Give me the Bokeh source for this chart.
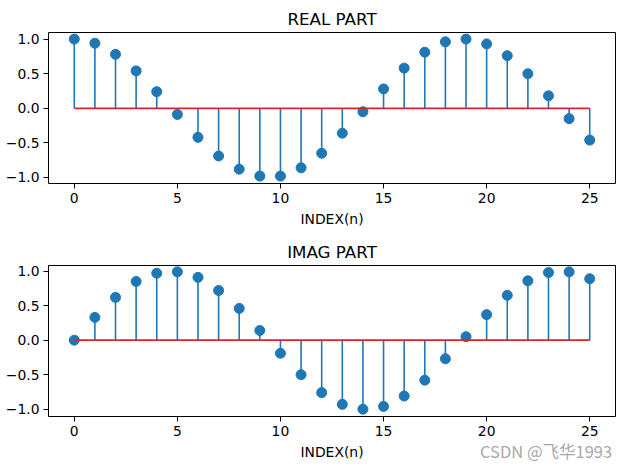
from bokeh.plotting import figure
from bokeh.layouts import column
from bokeh.models import FixedTicker, Range1d, Div
from bokeh.embed import file_html
from bokeh.resources import INLINE

n = list(range(26))
real_part = [1.0, 0.94, 0.78, 0.54, 0.24, -0.09, -0.42, -0.69, -0.88, -0.98,
             -0.98, -0.86, -0.65, -0.36, -0.05, 0.28, 0.58, 0.81, 0.96, 1.0,
             0.93, 0.76, 0.50, 0.18, -0.15, -0.46]
imag_part = [0.0, 0.33, 0.62, 0.85, 0.97, 0.99, 0.91, 0.72, 0.46, 0.14,
             -0.19, -0.50, -0.76, -0.93, -1.0, -0.96, -0.81, -0.58, -0.27, 0.05,
             0.37, 0.65, 0.86, 0.98, 0.99, 0.89]
titles = ["REAL PART", "IMAG PART"]
x_label = "INDEX(n)"
x_ticks = [0, 5, 10, 15, 20, 25]
y_ticks = [-1.0, -0.5, 0.0, 0.5, 1.0]
y_tick_labels = ["\u22121.0", "\u22120.5", "0.0", "0.5", "1.0"]
watermark = "CSDN @飞华1993"

FONT = "DejaVu Sans"
BLUE = "#1f77b4"
RED = "#d62728"


def make_fig(vals, title, height, btop, bbottom, yr):
    p = figure(width=626, height=height, output_backend="svg", toolbar_location=None,
               x_range=Range1d(-1.25, 26.25), y_range=Range1d(*yr),
               min_border_left=48, min_border_right=11,
               min_border_top=btop, min_border_bottom=bbottom)
    p.title.text = title
    p.title.align = "center"
    p.title.text_font = FONT
    p.title.text_font_size = "16.7px"
    p.title.text_font_style = "normal"
    p.title.text_color = "black"
    p.title.standoff = 8
    p.grid.visible = False
    p.outline_line_color = "black"
    p.outline_line_width = 1
    p.outline_line_alpha = 1
    p.background_fill_color = "white"
    p.border_fill_color = "white"
    for ax in (p.xaxis[0], p.yaxis[0]):
        ax.axis_line_color = None
        ax.major_tick_out = 5
        ax.major_tick_in = 0
        ax.minor_tick_line_color = None
        ax.major_tick_line_color = "black"
        ax.major_label_text_font = FONT
        ax.major_label_text_font_size = "13.9px"
        ax.major_label_text_color = "black"
        ax.major_label_standoff = 4
    p.xaxis.ticker = FixedTicker(ticks=x_ticks)
    p.yaxis.ticker = FixedTicker(ticks=y_ticks)
    p.yaxis.major_label_overrides = {t: l for t, l in zip(y_ticks, y_tick_labels)}
    p.xaxis.axis_label = x_label
    p.xaxis.axis_label_text_font = FONT
    p.xaxis.axis_label_text_font_size = "13.9px"
    p.xaxis.axis_label_text_font_style = "normal"
    p.xaxis.axis_label_text_color = "black"
    p.xaxis.axis_label_standoff = 5

    p.segment(x0=n, y0=[0] * len(n), x1=n, y1=vals, line_color=BLUE, line_width=1.6)
    p.scatter(x=n, y=vals, size=10, fill_color=BLUE, line_color=BLUE)
    p.line(x=[n[0], n[-1]], y=[0, 0], line_color=RED, line_width=1.8)
    return p


p1 = make_fig(real_part, titles[0], 235, 32, 52, (-1.087, 1.095))
p2 = make_fig(imag_part, titles[1], 236, 29, 55, (-1.106, 1.082))
wm = Div(text=watermark, width=145, height=22, margin=(-30, 0, 0, 480),
         styles={"position": "relative", "z-index": "10", "color": "#a8a8a8",
                 "font-family": "Noto Sans CJK SC", "font-size": "16.5px",
                 "line-height": "20px", "white-space": "nowrap"})

layout = column(p1, p2, wm, spacing=0)
open("out.html", "w").write(file_html(layout, INLINE))
